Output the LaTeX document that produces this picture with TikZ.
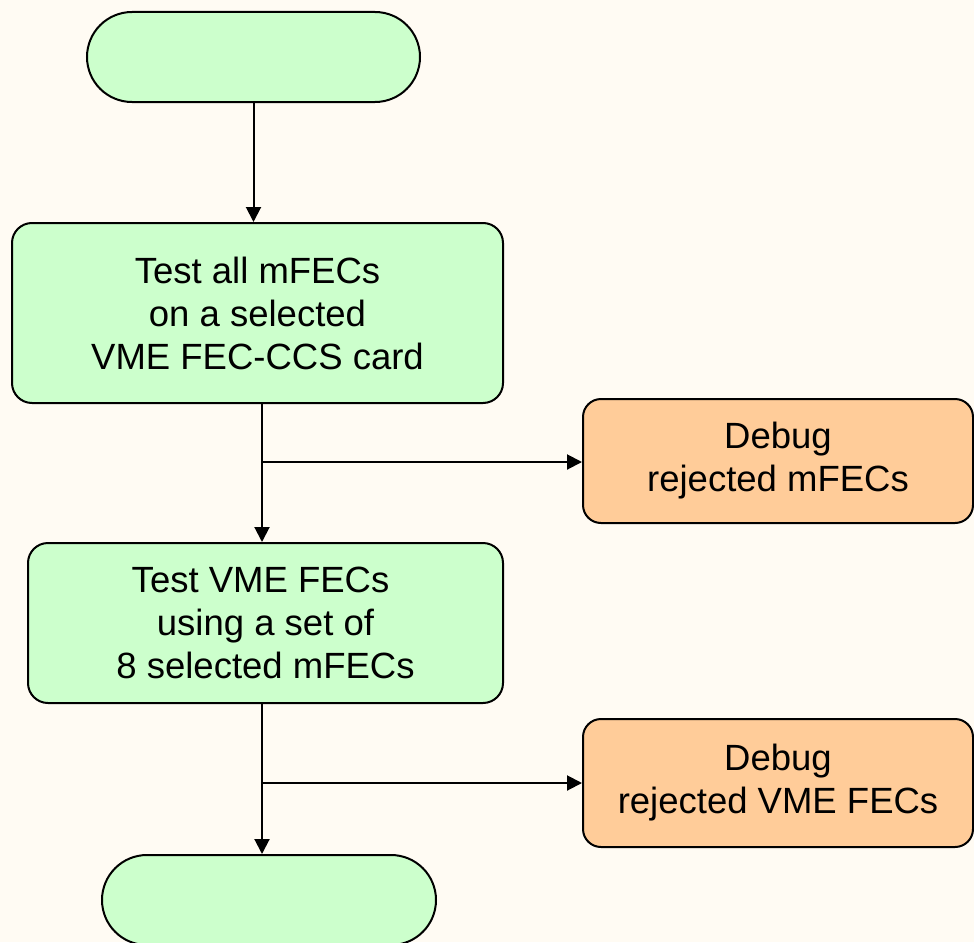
\documentclass[tikz,border=0pt]{standalone}
\usepackage{fontspec}
\setmainfont{Liberation Sans}
\usetikzlibrary{arrows.meta,shapes.misc}
\definecolor{bgcream}{HTML}{FFFBF3}
\definecolor{stepgreen}{HTML}{CCFFCC}
\definecolor{debugorange}{HTML}{FFCC99}
\begin{document}
\begin{tikzpicture}[x=1pt,y=-1pt,
  every node/.style={font=\fontsize{36.5}{43}\selectfont, align=center, line width=2pt, draw=black, inner sep=0pt},
  terminal/.style={rounded rectangle, fill=stepgreen, minimum width=333pt, minimum height=90pt},
  stepbox/.style={rectangle, rounded corners=20pt, fill=stepgreen},
  debugbox/.style={rectangle, rounded corners=18pt, fill=debugorange, minimum width=390pt},
  flow/.style={line width=2pt, -{Triangle[length=15pt,width=15pt]}}]
  % page background and extent
  \fill[bgcream] (0,0) rectangle (974,942);
  \useasboundingbox (0,0) rectangle (974,942);

  \node[terminal] (start) at (253.5,57) {};
  \node[stepbox, minimum width=491pt, minimum height=180pt] (t1) at (257.5,313)
    {Test all mFECs\\on a selected\hspace*{10pt}\\VME FEC-CCS card};
  \node[debugbox, minimum height=124pt] (d1) at (778,461) {Debug\\rejected mFECs};
  \node[stepbox, minimum width=475pt, minimum height=160pt] (t2) at (265.5,623)
    {Test VME FECs\hspace*{10pt}\\using a set of\hspace*{10pt}\\8 selected mFECs};
  \node[debugbox, minimum height=128pt] (d2) at (778,783) {Debug\\rejected VME FECs};
  \node[terminal, minimum width=334pt] (end) at (269,900) {};

  % branch points on the main line
  \coordinate (j1) at (262,462);
  \coordinate (j2) at (262,783);

  \draw[flow] (start.south) -- (start.south |- t1.north);
  \draw[flow] (t1.south -| j1) -- (t2.north -| j1);
  \draw[flow] (j1) -- (d1.west |- j1);
  \draw[flow] (t2.south -| j2) -- (end.north -| j2);
  \draw[flow] (j2) -- (d2.west |- j2);
\end{tikzpicture}
\end{document}
